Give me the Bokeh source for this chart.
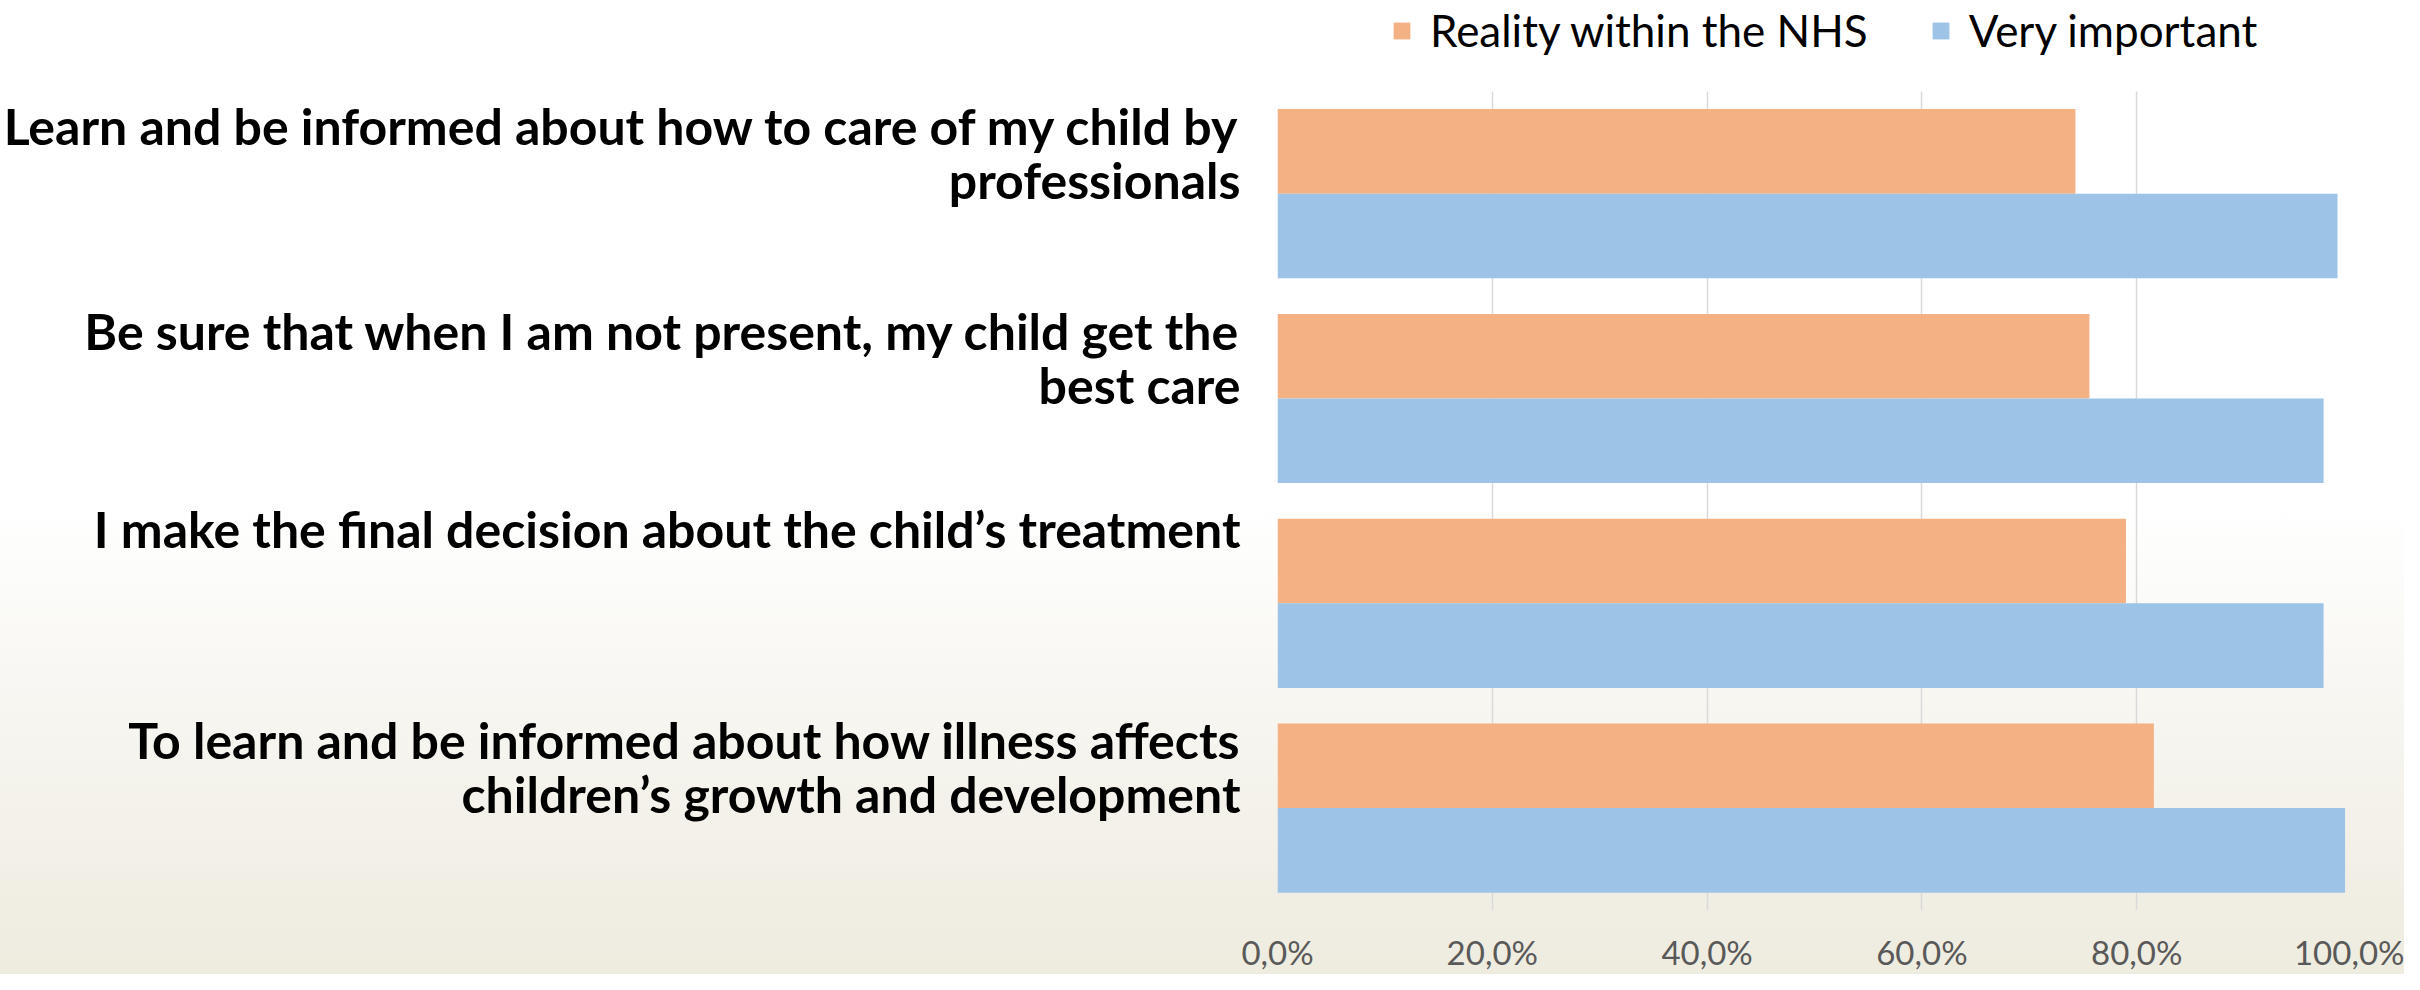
from bokeh.plotting import figure
from bokeh.models import (ColumnDataSource, Legend, LegendItem, Range1d,
                          CustomJSTickFormatter, FixedTicker)
from bokeh.transform import dodge
from bokeh.embed import file_html
from bokeh.resources import INLINE

categories = [
    "Learn and be informed about how to care of my child by\nprofessionals",
    "Be sure that when I am not present, my child get the\nbest care",
    "I make the final decision about the child\u2019s treatment",
    "To learn and be informed about how illness affects\nchildren\u2019s growth and development",
]
reality_nhs = [74.3, 75.6, 79.0, 81.6]
very_important = [98.7, 97.4, 97.4, 99.4]
series_names = ["Reality within the NHS", "Very important"]
x_ticks = [0, 20, 40, 60, 80, 100]

n = len(categories)
# category bands from top to bottom on a numeric axis (band i spans n-i-1 .. n-i)
band_center = [n - i - 0.5 for i in range(n)]
src = ColumnDataSource(dict(cat=categories, pos=band_center,
                            reality=reality_nhs, important=very_important))

W, H = 2404, 974
border_bottom = 62
top_space = 91            # px above the bars' area, where the legend sits
frame_h = H - border_bottom
band_px = (frame_h - top_space) / n
y_top = n + top_space / band_px

p = figure(width=W, height=H, output_backend="svg", toolbar_location=None,
           y_range=Range1d(0, y_top), x_range=Range1d(0, 100),
           min_border_left=1276, min_border_right=53, min_border_top=0,
           min_border_bottom=border_bottom)

grid_done = False
if "cross_bounds" in p.xgrid[0].properties():
    p.xgrid.cross_bounds = (0, n)
    grid_done = True
if not grid_done:
    p.xgrid.visible = False
    p.segment(x0=x_ticks, x1=x_ticks, y0=[0] * len(x_ticks), y1=[n] * len(x_ticks),
              line_color="#d9d9d9", line_width=1.5)
p.xgrid.grid_line_color = "#d9d9d9"
p.xgrid.grid_line_width = 1.5
p.ygrid.visible = False

r1 = p.hbar(y=dodge("pos", 0.2065), right="reality", left=0, height=0.413,
            source=src, fill_color="#F4B183", line_color=None)
r2 = p.hbar(y=dodge("pos", -0.2065), right="important", left=0, height=0.413,
            source=src, fill_color="#9DC3E6", line_color=None)

# category labels sit near the top of their band (as in the reference)
lab_pos = []
overrides = {}
for i, cat in enumerate(categories):
    lines = cat.count("\n") + 1
    pos = round((n - i) - (-0.03 + 0.165 * lines), 4)
    lab_pos.append(pos)
    overrides[pos] = cat
ya = p.yaxis[0]
ya.ticker = FixedTicker(ticks=lab_pos)
ya.major_label_overrides = overrides
ya.axis_line_color = None
ya.major_tick_line_color = None
ya.minor_tick_line_color = None
ya.major_label_standoff = 31
ya.major_label_text_font = "Lato"
ya.major_label_text_font_style = "bold"
ya.major_label_text_font_size = "50px"
ya.major_label_text_color = "black"
ya.major_label_text_line_height = 0.9

p.xaxis.ticker = FixedTicker(ticks=x_ticks)
p.xaxis.formatter = CustomJSTickFormatter(code="return tick.toFixed(1).replace('.', ',') + '%';")
p.xaxis.axis_line_color = None
p.xaxis.major_tick_line_color = None
p.xaxis.minor_tick_line_color = None
p.xaxis.major_label_text_font = "Lato"
p.xaxis.major_label_text_font_size = "33px"
p.xaxis.major_label_text_color = "#595959"
p.xaxis.major_label_standoff = 15

p.outline_line_color = None
p.background_fill_alpha = 0
p.border_fill_alpha = 0
p.styles = {"background": "linear-gradient(to bottom, #ffffff 0%, #ffffff 52%, #f7f6f1 72%, #eeebdf 100%)"}

legend = Legend(items=[LegendItem(label=series_names[0], renderers=[r1]),
                       LegendItem(label=series_names[1], renderers=[r2])],
                orientation="horizontal", location=(114, frame_h - 58),
                glyph_width=21, glyph_height=21, label_standoff=18, spacing=62,
                label_text_font="Lato", label_text_font_size="44px", label_text_color="black",
                border_line_color=None, background_fill_alpha=0, padding=0, margin=0)
p.add_layout(legend, "center")

open("out.html", "w").write(file_html(p, INLINE))
